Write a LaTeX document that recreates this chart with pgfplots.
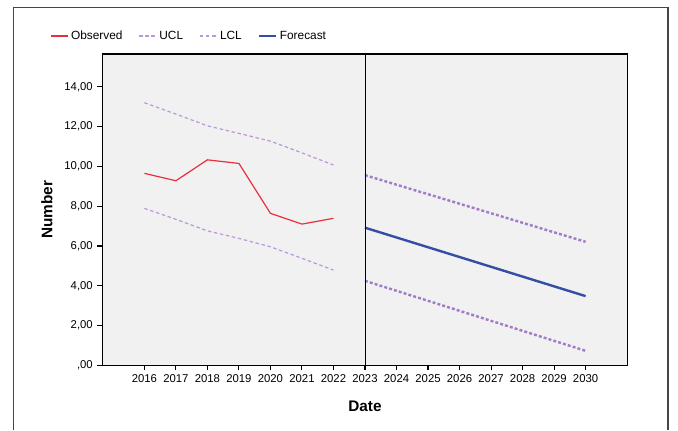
\documentclass[border=0pt]{standalone}
\usepackage{fontspec}
\setmainfont{Liberation Sans}
\usepackage{pgfplots}
\pgfplotsset{compat=1.18}
\definecolor{obsred}{RGB}{232,48,60}
\definecolor{cllight}{RGB}{186,152,216}
\definecolor{cldark}{RGB}{162,122,202}
\definecolor{fcblue}{RGB}{52,78,165}
\definecolor{bggray}{RGB}{241,241,241}
\definecolor{framegray}{RGB}{70,70,70}
\begin{document}
\begin{tikzpicture}
\begin{axis}[
  scale only axis, width=393.75pt, height=233.5pt,
  xmin=2014.67, xmax=2031.33, ymin=0, ymax=15.65,
  clip=false,
  axis background/.style={fill=bggray},
  axis line style={black, line width=0.9pt},
  xtick={2016,2017,2018,2019,2020,2021,2022,2023,2024,2025,2026,2027,2028,2029,2030},
  xticklabels={2016,2017,2018,2019,2020,2021,2022,2023,2024,2025,2026,2027,2028,2029,2030},
  ytick={0,2,4,6,8,10,12,14},
  yticklabels={{,00},{2,00},{4,00},{6,00},{8,00},{10,00},{12,00},{14,00}},
  tick align=outside, major tick length=3.75pt,
  xtick pos=left, ytick pos=left,
  tick style={black, line width=0.8pt},
  tick label style={font=\fontsize{8.5}{10}\selectfont},
  xlabel={Date}, ylabel={Number},
  label style={font=\bfseries\fontsize{11.5}{13}\selectfont},
  xlabel style={at={(axis description cs:0.5,-0.132)}, anchor=center},
  ylabel style={at={(axis description cs:-0.106,0.5)}, anchor=center},
  legend columns=4,
  legend style={at={(-0.1,1.0578)}, anchor=west, draw=none, fill=none,
    inner sep=0pt, font=\fontsize{8.9}{10}\selectfont,
    /tikz/every even column/.append style={column sep=10pt}},
  legend image code/.code={\draw[#1] (0pt,0pt) -- (12.75pt,0pt);},
]
% Observed
\addplot[obsred, line width=0.9pt] coordinates {
  (2016,9.65) (2017,9.28) (2018,10.33) (2019,10.15) (2020,7.64) (2021,7.10) (2022,7.39)};
\addlegendentry{Observed}
% UCL (fit period)
\addplot[cllight, line width=0.9pt, dash pattern=on 2.6pt off 2pt] coordinates {
  (2016,13.20) (2017,12.63) (2018,12.04) (2019,11.66) (2020,11.27) (2021,10.68) (2022,10.07)};
\addlegendentry{UCL}
% LCL (fit period)
\addplot[cllight, line width=0.9pt, dash pattern=on 2.6pt off 2pt] coordinates {
  (2016,7.89) (2017,7.34) (2018,6.76) (2019,6.38) (2020,5.96) (2021,5.38) (2022,4.79)};
\addlegendentry{LCL}
% Forecast
\addplot[fcblue, line width=1.8pt] coordinates {(2023,6.92) (2030,3.48)};
\addlegendentry{Forecast}
% Forecast UCL / LCL
\addplot[cldark, line width=1.8pt, dash pattern=on 2.2pt off 1.6pt, forget plot] coordinates {(2023,9.56) (2030,6.21)};
\addplot[cldark, line width=1.8pt, dash pattern=on 2.2pt off 1.6pt, forget plot] coordinates {(2023,4.25) (2030,0.73)};
% divider at forecast origin
\addplot[black, line width=0.7pt, forget plot] coordinates {(2023,0) (2023,15.65)};
% outer frame
\draw[framegray, line width=0.8pt] (rel axis cs:-0.1695,-0.2078) -- (rel axis cs:-0.1695,1.1494)
  -- (rel axis cs:1.0771,1.1494) -- (rel axis cs:1.0771,-0.2078);
\coordinate (bbl) at (rel axis cs:-0.1952,-0.2078);
\coordinate (btr) at (rel axis cs:1.0962,1.1735);
\end{axis}
\pgfresetboundingbox
\path[use as bounding box] (bbl) rectangle (btr);
\end{tikzpicture}
\end{document}
